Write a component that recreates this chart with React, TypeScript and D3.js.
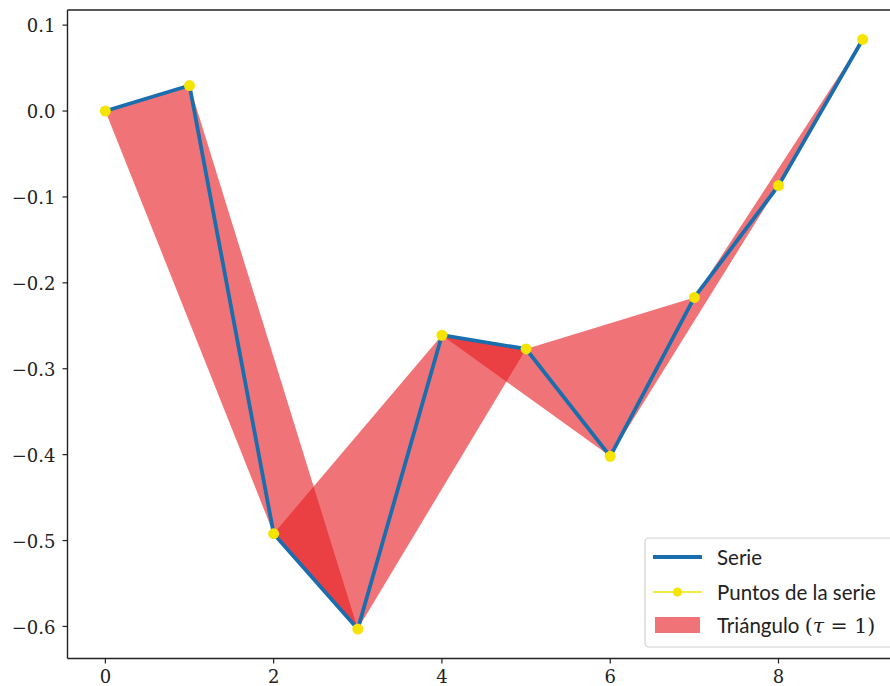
import React from "react";
import * as d3 from "d3";

// Series values (x = 0..9)
const xs = [0, 1, 2, 3, 4, 5, 6, 7, 8, 9];
const ys = [0.0, 0.0297, -0.492, -0.603, -0.261, -0.277, -0.402, -0.217, -0.0868, 0.0833];
const xTicks = [0, 2, 4, 6, 8];
const yTicks = [0.1, 0.0, -0.1, -0.2, -0.3, -0.4, -0.5, -0.6];
const legendLabels = ["Serie", "Puntos de la serie", "Triángulo"];
const tau = 1;

const W = 890;
const H = 686;

const left = 67.5;
const right = 900.5;
const top = 10;
const bottom = 658.5;

const SERIE = "#1b6eae";
const POINT = "#f4e400";
const TRI = "#e61e23";

export default function App() {
  const x = d3.scaleLinear().domain([-0.45, 9.45]).range([left, right]);
  const yMin = d3.min(ys) as number;
  const yMax = d3.max(ys) as number;
  const pad = (yMax - yMin) * 0.05;
  const y = d3.scaleLinear().domain([yMin - pad, yMax + pad]).range([bottom, top]);

  const pts: [number, number][] = xs.map((v, i) => [x(v), y(ys[i])]);
  const line = d3.line<[number, number]>()(pts) || "";

  // Consecutive triangles (i, i+tau, i+2tau)
  const tris: string[] = [];
  for (let i = 0; i + 2 * tau < xs.length; i++) {
    const tri = [pts[i], pts[i + tau], pts[i + 2 * tau]];
    tris.push(d3.line<[number, number]>()(tri) + "Z");
  }

  const fmt = (v: number) => {
    const s = Math.abs(v).toFixed(1);
    return v < -1e-9 ? "\u2212" + s : s;
  };

  const serif = "'DejaVu Serif', 'Liberation Serif', serif";
  const sans = "Lato, 'Open Sans', 'DejaVu Sans', sans-serif";

  const lgX = 645;
  const lgY = 538;
  const rows = [557, 592, 625];

  return (
    <svg
      width={W}
      height={H}
      style={{ position: "fixed", left: 0, top: 0, display: "block", background: "#fff" }}
    >
      <defs>
        <clipPath id="plot">
          <rect x={left} y={top} width={right - left} height={bottom - top} />
        </clipPath>
      </defs>
      <g clipPath="url(#plot)">
        {tris.map((d, i) => (
          <path key={i} d={d} fill={TRI} fillOpacity={0.62} stroke="none" />
        ))}
        <path d={line} fill="none" stroke={SERIE} strokeWidth={3.8} strokeLinejoin="round" strokeLinecap="round" />
        {pts.map((p, i) => (
          <circle key={i} cx={p[0]} cy={p[1]} r={5.5} fill={POINT} />
        ))}
      </g>

      {/* spines */}
      <g stroke="#222" strokeWidth={1.4} fill="none">
        <line x1={left} y1={top} x2={left} y2={bottom} />
        <line x1={left} y1={bottom} x2={right} y2={bottom} />
        <line x1={left} y1={top} x2={right} y2={top} />
        <line x1={right} y1={top} x2={right} y2={bottom} />
      </g>

      {/* x axis */}
      {xTicks.map((t) => (
        <g key={t} transform={`translate(${x(t)},${bottom})`}>
          <line y1={0} y2={5} stroke="#222" strokeWidth={1.2} />
          <text y={24} textAnchor="middle" fontFamily={serif} fontSize={18} fill="#222">
            {t}
          </text>
        </g>
      ))}

      {/* y axis */}
      {yTicks.map((t) => (
        <g key={t} transform={`translate(${left},${y(t)})`}>
          <line x1={0} x2={-5} stroke="#222" strokeWidth={1.2} />
          <text x={-12} dy="0.4em" textAnchor="end" fontFamily={serif} fontSize={18} fill="#222">
            {fmt(t)}
          </text>
        </g>
      ))}

      {/* legend */}
      <g>
        <rect
          x={lgX}
          y={lgY}
          width={260}
          height={109}
          rx={4}
          fill="#fff"
          fillOpacity={0.85}
          stroke="#d0d0d0"
          strokeWidth={1.2}
        />
        <line x1={653} x2={702} y1={rows[0]} y2={rows[0]} stroke={SERIE} strokeWidth={3.8} />
        <text x={717} y={rows[0] + 7.5} fontFamily={sans} fontSize={20.5} fill="#222">
          {legendLabels[0]}
        </text>
        <line x1={653} x2={702} y1={rows[1]} y2={rows[1]} stroke={POINT} strokeWidth={1.6} />
        <circle cx={677.5} cy={rows[1]} r={4.5} fill={POINT} />
        <text x={717} y={rows[1] + 7.5} fontFamily={sans} fontSize={20.5} fill="#222">
          {legendLabels[1]}
        </text>
        <rect x={655} y={rows[2] - 8} width={45} height={16} fill={TRI} fillOpacity={0.62} />
        <text x={717} y={rows[2] + 7.5} fontFamily={sans} fontSize={20.5} fill="#222">
          {legendLabels[2] + " "}
          <tspan fontFamily={serif}>(</tspan>
          <tspan fontFamily={serif} fontStyle="italic">τ</tspan>
          <tspan fontFamily={serif}>{" = " + tau + ")"}</tspan>
        </text>
      </g>
    </svg>
  );
}
